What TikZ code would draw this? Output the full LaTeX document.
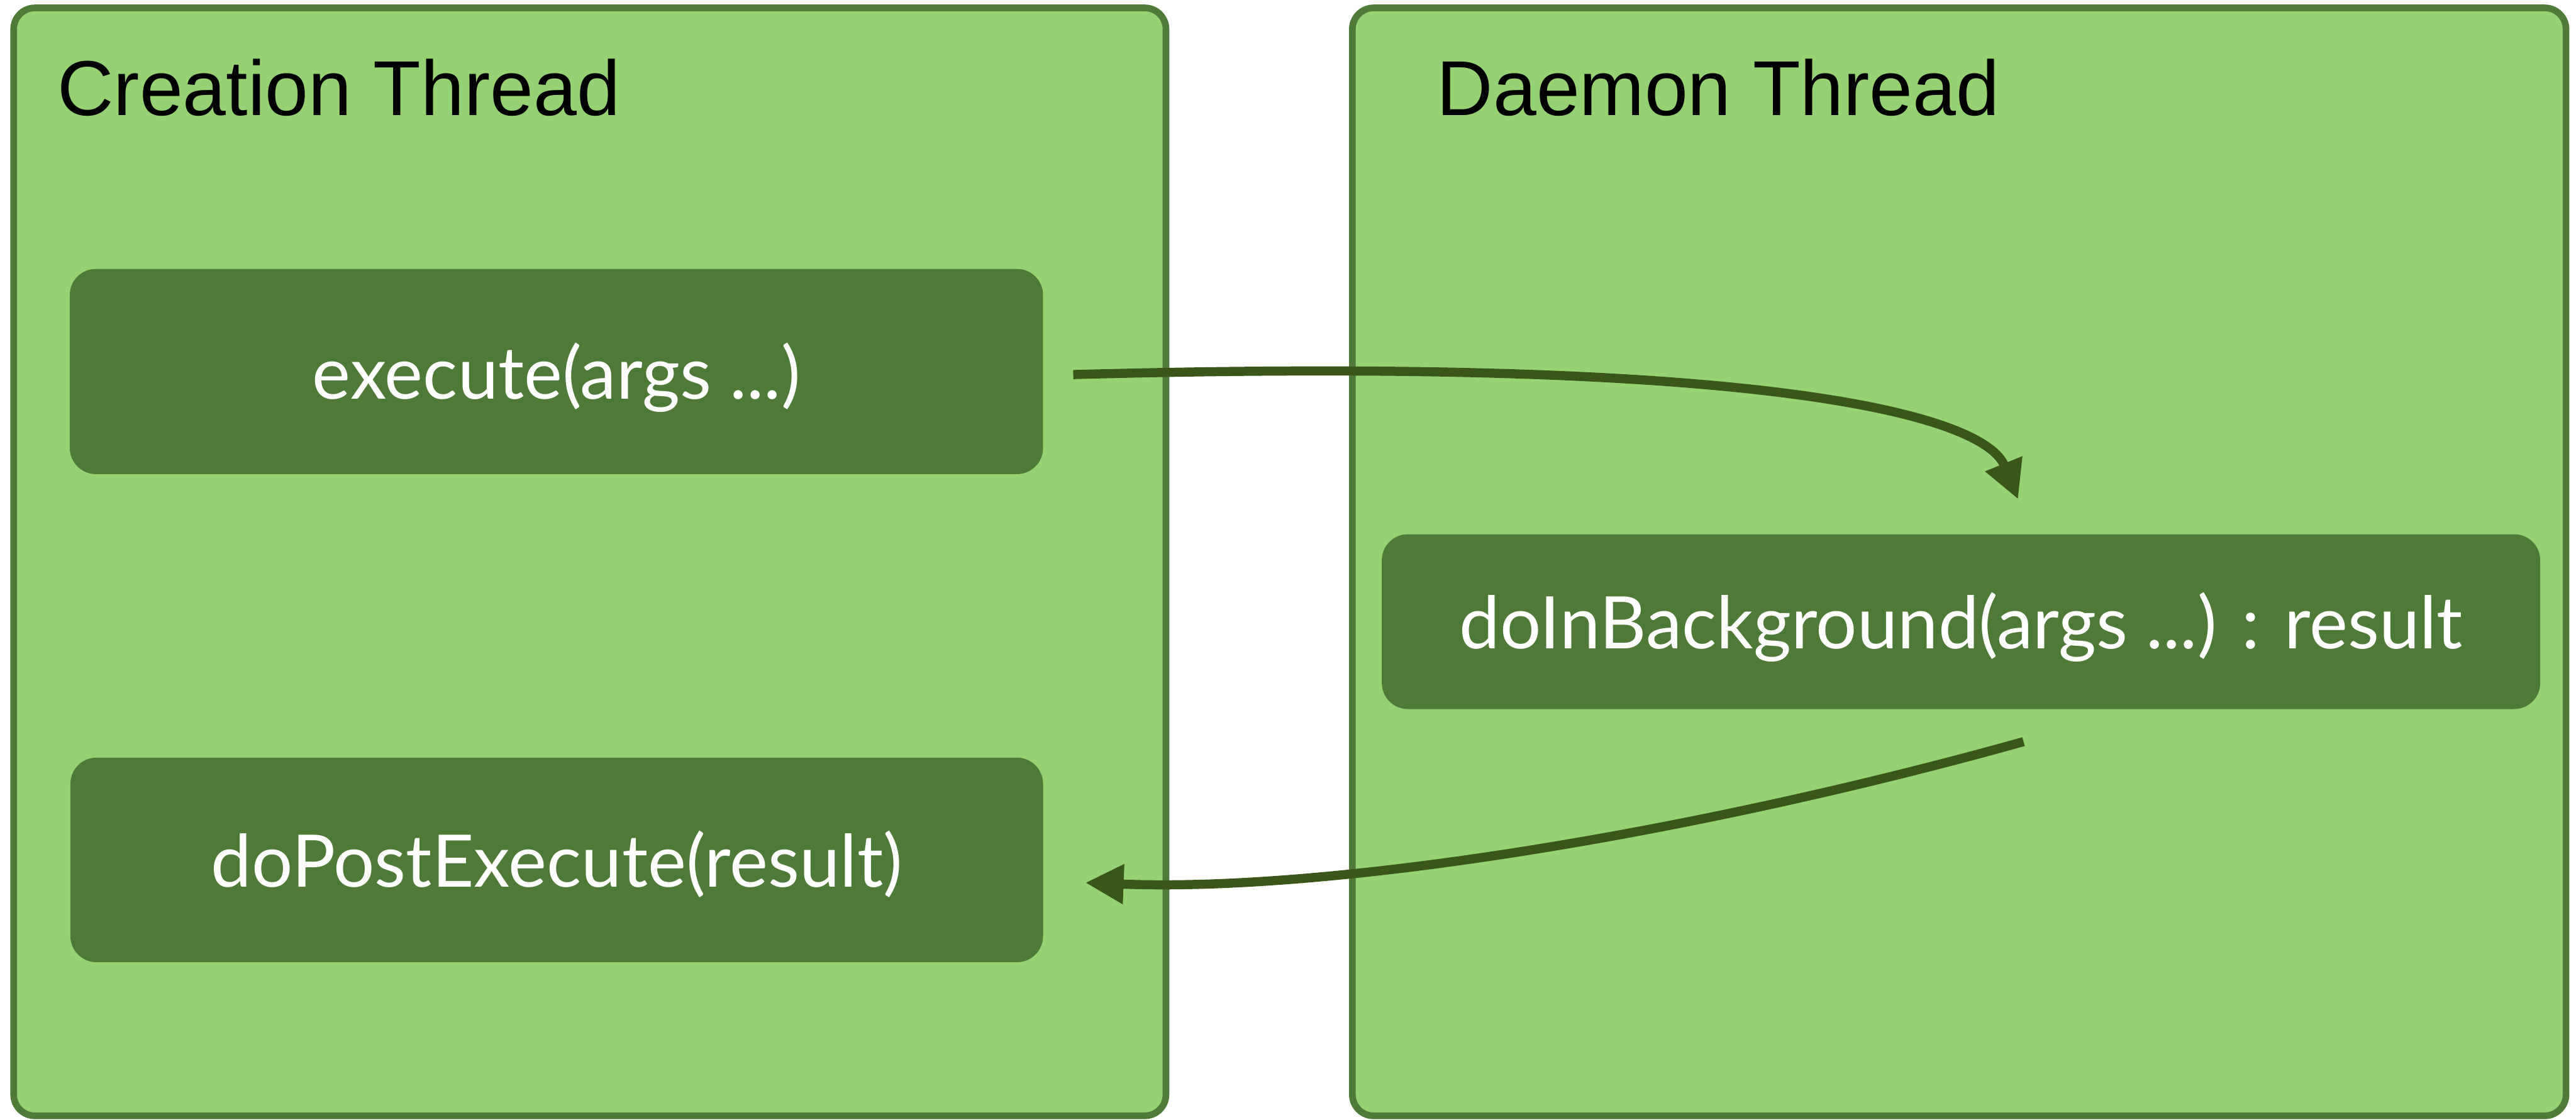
\documentclass[tikz,border=0pt]{standalone}
\usepackage{fontspec}
\usepackage{tikz}
\usetikzlibrary{arrows.meta}
\newfontfamily\titlefont{Liberation Sans}
\newfontfamily\taskfont{Lato}
\definecolor{panelfill}{RGB}{150,210,115}
\definecolor{panelline}{RGB}{79,122,55}
\definecolor{taskfill}{RGB}{79,121,54}
\definecolor{flowline}{RGB}{58,86,25}

\begin{document}
\begin{tikzpicture}[
  thread/.style={draw=panelline,fill=panelfill,line width=0.11cm,rounded corners=0.35cm,
    minimum height=18.25cm,inner sep=0pt},
  title/.style={anchor=base west,inner sep=0pt,font=\titlefont\fontsize{36.5}{40}\selectfont},
  task/.style={fill=taskfill,rounded corners=0.43cm,text=white,inner sep=0pt,
    text height=0.9cm,text depth=0cm,font=\taskfont\fontsize{34}{37}\selectfont},
  flow/.style={draw=flowline,line width=0.15cm,-{Triangle[length=0.63cm,width=0.62cm]}}
]
\useasboundingbox (0,0) rectangle (42.43,18.44);

%Thread panels
\node[thread,minimum width=18.98cm] (creation) at (9.715,9.185) {};
\node[thread,minimum width=19.99cm] (daemon) at (32.27,9.185) {};
\node[title] (ctitle) at (0.94,16.54) {Creation Thread};
\node[title] (dtitle) at (23.66,16.54) {Daemon Thread};

%Methods
\node[task,minimum width=16.03cm,minimum height=3.38cm] (exec) at (9.165,12.32) {execute(args ...)};
\node[task,minimum width=19.08cm,minimum height=2.88cm] (bg) at (32.30,8.20) {doInBackground(args ...) : result};
\node[task,minimum width=16.02cm,minimum height=3.37cm] (post) at (9.17,4.275) {doPostExecute(result)};

%Calls between threads
\draw[flow] ([shift={(0.49,-0.05)}]exec.east) .. controls +(11.8,0.32) and +(-0.54,1.33) .. ([shift={(0.94,0.57)}]bg.north);
\draw[flow] ([shift={(1.03,-0.53)}]bg.south) .. controls +(-5.33,-1.49) and +(4.13,-0.16) .. ([shift={(0.69,-0.375)}]post.east);
\end{tikzpicture}
\end{document}
